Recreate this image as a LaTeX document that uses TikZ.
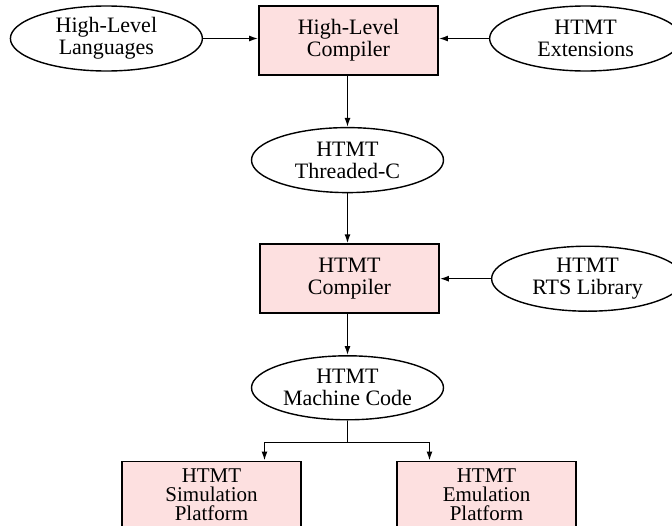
\documentclass[tikz,border=0pt]{standalone}
\usepackage{fontspec}
\setmainfont{Liberation Serif}
\usetikzlibrary{shapes.geometric,positioning,arrows.meta}
\definecolor{stagepink}{RGB}{253,224,224}

\begin{document}
\begin{tikzpicture}[
    font=\fontsize{22}{22}\selectfont,
    stage/.style={draw, line width=1.8pt, fill=stagepink,
        minimum width=179pt, minimum height=69pt, inner sep=0pt, align=center},
    source/.style={ellipse, draw, line width=1.4pt,
        minimum width=192pt, minimum height=65pt, inner sep=0pt, align=center},
    flow/.style={line width=1.4pt, -{Latex[length=9pt,width=6pt]}},
    platform/.style={stage, minimum height=67pt, font=\fontsize{21}{19}\selectfont}
  ]
  \useasboundingbox (0,0) rectangle (672pt,-525pt);
  \node [stage] (hlc) at (348.5pt,-40.5pt) {High-Level\\Compiler};
  \node [source, left=55pt of hlc, yshift=2pt] (hll) {High-Level\\Languages};
  \node [source, right=50pt of hlc, yshift=2pt] (ext) {HTMT\\Extensions};
  \node [source, below=51pt of hlc, xshift=-1pt] (tc) {HTMT\\Threaded-C};
  \node [stage, below=50pt of tc, xshift=2pt] (htc) {HTMT\\Compiler};
  \node [source, right=51pt of htc] (rts) {HTMT\\RTS Library};
  \node [source, below=41pt of htc, xshift=-2pt, minimum height=64pt] (mc) {HTMT\\Machine Code};
  \node [platform, below=40pt of mc, xshift=-136pt] (sim) {HTMT\\Simulation\\Platform};
  \node [platform, below=40pt of mc, xshift=139pt] (emu) {HTMT\\Emulation\\Platform};

  \draw [flow] (hll.east) -- (hll.east -| hlc.west);
  \draw [flow] (ext.west) -- (ext.west -| hlc.east);
  \draw [flow] (hlc.south -| tc) -- (tc.north);
  \draw [flow] (tc.south) -- (tc.south |- htc.north);
  \draw [flow] (rts.west) -- (rts.west -| htc.east);
  \draw [flow] (htc.south -| mc) -- (mc.north);
  % split towards the two platforms
  \draw [line width=1.4pt] (mc.south) -- ++(0,-22pt) coordinate (fork);
  \draw [flow] (fork) -| ([xshift=53pt]sim.north);
  \draw [flow] (fork) -| ([xshift=-57pt]emu.north);
\end{tikzpicture}
\end{document}
